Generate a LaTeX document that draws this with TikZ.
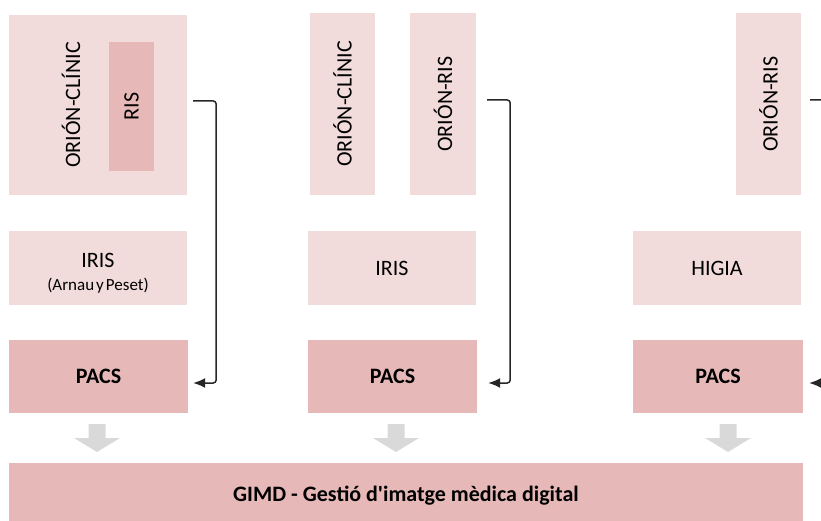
\documentclass[tikz,border=0pt]{standalone}
\usepackage{fontspec}
\setmainfont{Carlito}
\usetikzlibrary{arrows.meta}
\definecolor{pinklight}{HTML}{F2DCDB}
\definecolor{pinkdark}{HTML}{E6B9B8}
\definecolor{arrowgray}{HTML}{D9D9D9}

\begin{document}
\begin{tikzpicture}[x=1pt,y=-1pt,
        every node/.style={font=\fontsize{22}{26}\selectfont},
        light/.style={fill=pinklight,inner sep=0pt},
        dark/.style={fill=pinkdark,inner sep=0pt},
        link/.style={line width=1.5pt,black!85,rounded corners=3pt,-{Latex[length=12pt,width=10pt]}}]
        \useasboundingbox (0,0) rectangle (821,521);
        \clip (0,0) rectangle (821,521);

        % first column
        \node[light,minimum width=178pt,minimum height=180pt] (clinicA) at (98,105) {};
        \node (labelA) at (71,105) {\rotatebox{90}{ORIÓN-CLÍNIC}};
        \node[dark,minimum width=45pt,minimum height=129pt] (risA) at (131.5,106.5) {\rotatebox{90}{RIS}};
        \node[light,minimum width=178pt,minimum height=74pt] (irisA) at (98,268) {};
        \node[align=center] (irisAtext) at (98,273)
          {IRIS\\[-3pt]{\fontsize{17}{19}\selectfont\spaceskip=2pt (Arnau y Peset)}};
        \node[dark,minimum width=179pt,minimum height=73pt,font=\bfseries\fontsize{22}{26}\selectfont] (pacsA) at (98.5,376.5) {PACS};

        % second column
        \node[light,minimum width=65pt,minimum height=182pt] (clinicB) at (342.5,104) {\rotatebox{90}{ORIÓN-CLÍNIC}};
        \node[light,minimum width=66pt,minimum height=182pt] (orisB) at (443,104) {\rotatebox{90}{ORIÓN-RIS}};
        \node[light,minimum width=168pt,minimum height=74pt] (irisB) at (392,268) {IRIS};
        \node[dark,minimum width=169pt,minimum height=73pt,font=\bfseries\fontsize{22}{26}\selectfont] (pacsB) at (392.5,376.5) {PACS};

        % third column
        \node[light,minimum width=65pt,minimum height=182pt] (orisC) at (768.5,104) {\rotatebox{90}{ORIÓN-RIS}};
        \node[light,minimum width=168pt,minimum height=74pt] (higiaC) at (717,268) {HIGIA};
        \node[dark,minimum width=170pt,minimum height=73pt,font=\bfseries\fontsize{22}{26}\selectfont] (pacsC) at (718,376.5) {PACS};

        \node[dark,minimum width=794pt,minimum height=66pt,font=\bfseries\fontsize{22}{26}\selectfont] (gimd) at (406,496)
          {GIMD - Gestió d\textquotesingle imatge mèdica digital};

        \draw[link] ([xshift=6pt,yshift=4pt]clinicA.east) -- ++(23,0) |- ([xshift=5pt,yshift=-6.5pt]pacsA.east);
        \draw[link] ([xshift=11pt,yshift=4pt]orisB.east) -- ++(23,0) |- ([xshift=11pt,yshift=-6.5pt]pacsB.east);
        \draw[link] ([xshift=9pt,yshift=4pt]orisC.east) -- ++(40,0) |- ([xshift=6pt,yshift=-6.5pt]pacsC.east);

        \foreach \x in {97,396,728}
          \fill[arrowgray] (\x-8.5,424) -- (\x+8.5,424) -- (\x+8.5,438) -- (\x+23,438)
            -- (\x,452) -- (\x-23,438) -- (\x-8.5,438) -- cycle;
\end{tikzpicture}
\end{document}
